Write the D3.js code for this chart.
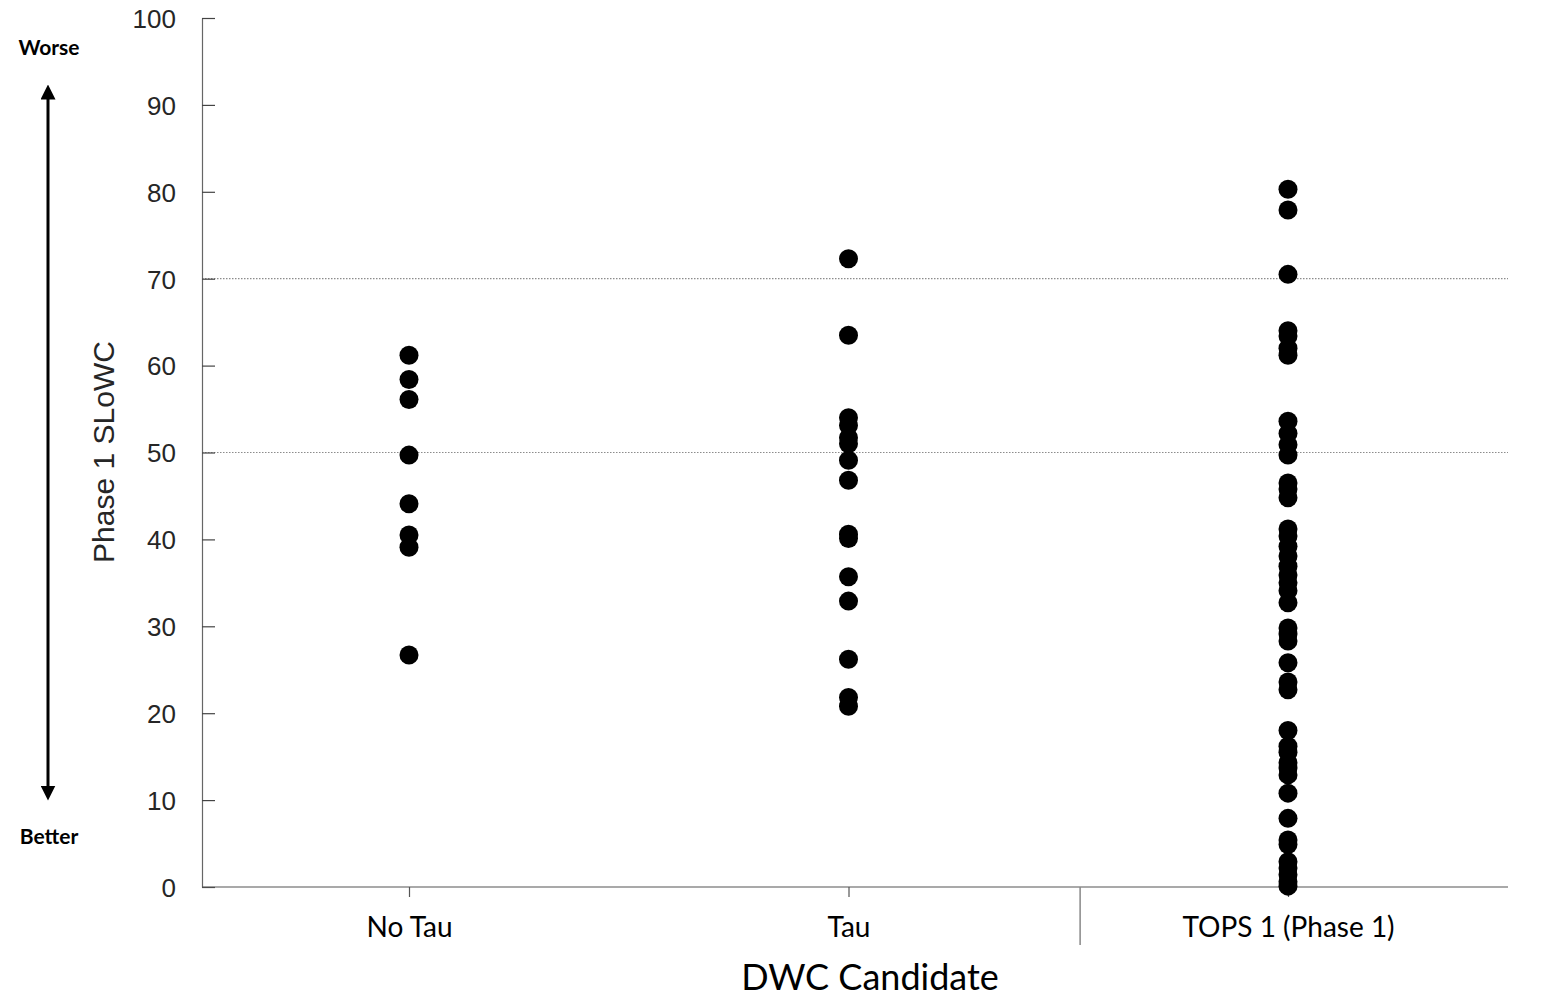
<!DOCTYPE html>
<html>
<head>
<meta charset="utf-8">
<script src="https://cdn.jsdelivr.net/npm/d3@7"></script>
<style>
  html, body { margin: 0; padding: 0; background: #fff; }
  svg { display: block; }
</style>
</head>
<body>
<div id="chart"></div>
<script>
// categories and values
var categories = ['No Tau', 'Tau', 'TOPS 1 (Phase 1)'];
var noTau = [61.2, 58.4, 56.1, 49.7, 44.1, 40.5, 39.1, 26.7];
var tau = [72.3, 63.5, 54.0, 53.1, 51.7, 51.0, 49.1, 46.8, 40.6, 40.1, 35.7, 32.9, 26.2, 21.8, 20.8];
var tops = [80.3, 77.9, 70.5, 64.0, 63.4, 62.0, 61.2, 53.6, 52.2, 50.9, 49.7, 46.5, 45.8, 44.8,
  41.2, 40.4, 39.2, 38.1, 36.9, 35.9, 35.0, 34.1, 32.7, 29.8, 29.1, 28.3, 25.8, 23.6, 22.7,
  18.0, 16.2, 15.5, 14.3, 13.7, 12.9, 10.8, 7.9, 5.4, 4.9, 2.9, 2.2, 1.4, 0.6, 0.1];
var refLines = [70, 50];
var yTicks = [0, 10, 20, 30, 40, 50, 60, 70, 80, 90, 100];

(function() {

var W = 1565, H = 1001;
var pLeft = 202, pRight = 1508, pTop = 18, pBottom = 887;

var svg = d3.select('#chart').append('svg')
  .attr('width', W).attr('height', H);

var y = d3.scaleLinear().domain([0, 100]).range([pBottom, pTop]);
var x = d3.scalePoint().domain(categories).range([409, 1288]);

var series = [noTau, tau, tops];
var points = [];
series.forEach(function(vals, i) {
  vals.forEach(function(v) { points.push({ cat: categories[i], v: v }); });
});

// reference lines
svg.append('g').selectAll('line')
  .data(refLines).enter().append('line')
  .attr('x1', pLeft).attr('x2', pRight)
  .attr('y1', function(d) { return y(d); })
  .attr('y2', function(d) { return y(d); })
  .attr('stroke', '#8c8c8c')
  .attr('stroke-width', 1.2)
  .attr('stroke-dasharray', '1.5,1.5');

// y axis, ticks pointing inward
var yAxis = svg.append('g')
  .attr('transform', 'translate(' + pLeft + ',0)')
  .call(d3.axisRight(y).tickValues(yTicks).tickSize(13).tickSizeOuter(0));
yAxis.select('.domain').attr('stroke', '#666').attr('stroke-width', 1.2);
yAxis.selectAll('.tick line').attr('stroke', '#444').attr('stroke-width', 1.2);
yAxis.selectAll('.tick text')
  .attr('x', -26).attr('dy', '0.36em')
  .attr('text-anchor', 'end')
  .attr('fill', '#262626')
  .style('font-family', '"Liberation Sans", Arial, sans-serif')
  .style('font-size', '26px');

// x axis line
svg.append('line')
  .attr('x1', pLeft).attr('x2', pRight)
  .attr('y1', pBottom).attr('y2', pBottom)
  .attr('stroke', '#555').attr('stroke-width', 1.2);

var xAxis = svg.append('g')
  .attr('transform', 'translate(0,' + pBottom + ')')
  .call(d3.axisBottom(x).tickSize(10).tickSizeOuter(0));
xAxis.select('.domain').remove();
xAxis.selectAll('.tick line').attr('stroke', '#555').attr('stroke-width', 1.2);
xAxis.selectAll('.tick text')
  .attr('y', 50).attr('dy', 0)
  .attr('fill', '#000')
  .style('font-family', 'Lato, "Open Sans", sans-serif')
  .style('font-size', '28px');

// separator between groups
var sepX = x('Tau') + x.step() * 0.527;
svg.append('line')
  .attr('x1', sepX).attr('x2', sepX)
  .attr('y1', pBottom).attr('y2', 945)
  .attr('stroke', '#888').attr('stroke-width', 1.5);

// dots
svg.append('g').selectAll('circle')
  .data(points).enter().append('circle')
  .attr('cx', function(d) { return x(d.cat); })
  .attr('cy', function(d) { return y(d.v); })
  .attr('r', 9.5)
  .attr('fill', '#000');

// axis titles
svg.append('text')
  .attr('transform', 'translate(114,452) rotate(-90)')
  .attr('text-anchor', 'middle')
  .attr('fill', '#262626')
  .style('font-family', '"Liberation Sans", Arial, sans-serif')
  .style('font-size', '30px')
  .text('Phase 1 SLoWC');

svg.append('text')
  .attr('x', 870).attr('y', 990)
  .attr('text-anchor', 'middle')
  .attr('fill', '#000')
  .style('font-family', 'Lato, "Open Sans", sans-serif')
  .style('font-size', '36px')
  .text('DWC Candidate');

// worse / better arrow
svg.append('defs').append('marker')
  .attr('id', 'head')
  .attr('viewBox', '0 0 10 10')
  .attr('refX', 5).attr('refY', 5)
  .attr('markerWidth', 5).attr('markerHeight', 5)
  .attr('markerUnits', 'strokeWidth')
  .attr('orient', 'auto-start-reverse')
  .append('path').attr('d', 'M0,0 L10,5 L0,10 Z').attr('fill', '#000');
svg.append('line')
  .attr('x1', 48).attr('x2', 48)
  .attr('y1', 793).attr('y2', 92)
  .attr('stroke', '#000').attr('stroke-width', 3)
  .attr('marker-end', 'url(#head)')
  .attr('marker-start', 'url(#head)');

svg.append('text')
  .attr('x', 49).attr('y', 55)
  .attr('text-anchor', 'middle')
  .style('font-family', 'Lato, "Open Sans", sans-serif')
  .style('font-weight', 'bold')
  .style('font-size', '21px')
  .text('Worse');
svg.append('text')
  .attr('x', 49).attr('y', 844)
  .attr('text-anchor', 'middle')
  .style('font-family', 'Lato, "Open Sans", sans-serif')
  .style('font-weight', 'bold')
  .style('font-size', '21px')
  .text('Better');

})();
</script>
</body>
</html>
